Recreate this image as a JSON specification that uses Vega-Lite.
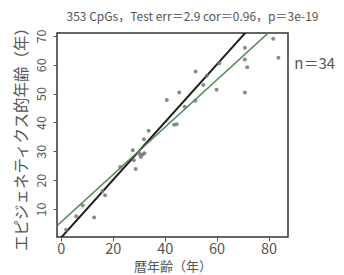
{
  "$schema": "https://vega.github.io/schema/vega-lite/v6.json",
  "autosize": {"type": "none"},
  "width": 231,
  "height": 204,
  "padding": {"left": 57, "top": 33, "right": 56, "bottom": 38},
  "background": "white",
  "config": {
    "font": "Noto Sans CJK JP",
    "view": {"stroke": "#333333", "strokeWidth": 1.5},
    "axis": {"grid": false, "domain": false, "tickColor": "#555555", "tickSize": 4, "labelColor": "#555555", "titleColor": "#555555", "titleFontWeight": "normal", "labelFont": "Noto Sans CJK JP", "titleFont": "Noto Sans CJK JP"}
  },
  "title": {
    "text": "353 CpGs，Test err＝2.9 cor＝0.96，p＝3e-19",
    "fontSize": 12,
    "fontWeight": "normal",
    "color": "#555555",
    "font": "Noto Sans CJK JP",
    "anchor": "middle",
    "dx": 20,
    "offset": -5
  },
  "datasets": {
    "pts": [
      {"age": 2.0, "epi": 2.8}, {"age": 5.9, "epi": 7.5}, {"age": 8.4, "epi": 11.2}, {"age": 12.8, "epi": 7.1},
      {"age": 16.0, "epi": 16.2}, {"age": 17.0, "epi": 14.8}, {"age": 22.8, "epi": 24.6}, {"age": 27.7, "epi": 30.4},
      {"age": 28.1, "epi": 26.9}, {"age": 28.8, "epi": 23.9}, {"age": 30.5, "epi": 28.9}, {"age": 30.8, "epi": 28.0},
      {"age": 31.5, "epi": 28.9}, {"age": 32.2, "epi": 29.3}, {"age": 30.0, "epi": 29.6}, {"age": 32.0, "epi": 34.2},
      {"age": 33.8, "epi": 37.1}, {"age": 40.8, "epi": 47.8}, {"age": 43.6, "epi": 39.2}, {"age": 44.6, "epi": 39.4},
      {"age": 45.6, "epi": 50.4}, {"age": 47.7, "epi": 45.4}, {"age": 51.9, "epi": 57.7}, {"age": 51.8, "epi": 47.5},
      {"age": 54.9, "epi": 53.0}, {"age": 56.2, "epi": 56.2}, {"age": 60.0, "epi": 51.3}, {"age": 61.0, "epi": 60.5},
      {"age": 70.9, "epi": 65.9}, {"age": 70.9, "epi": 61.8}, {"age": 70.9, "epi": 50.4}, {"age": 71.8, "epi": 59.1},
      {"age": 81.8, "epi": 69.0}, {"age": 83.8, "epi": 62.4}
    ],
    "lines": [
      {"line": "identity", "age": -3, "epi": -3},
      {"line": "identity", "age": 90, "epi": 90},
      {"line": "fit", "age": -3, "epi": 3.0},
      {"line": "fit", "age": 90, "epi": 79.3}
    ],
    "label": [{"age": 97.8, "epi": 60.4, "txt": "n＝34"}]
  },
  "encoding": {
    "x": {
      "field": "age", "type": "quantitative",
      "scale": {"domain": [-1.5, 87.5], "nice": false, "zero": false},
      "axis": {"values": [0, 20, 40, 60, 80], "labelFontSize": 14.5, "title": "暦年齢（年）", "titleFontSize": 13, "titlePadding": 5, "labelPadding": 1}
    },
    "y": {
      "field": "epi", "type": "quantitative",
      "scale": {"domain": [0.3, 71], "nice": false, "zero": false},
      "axis": {"values": [10, 20, 30, 40, 50, 60, 70], "labelOverlap": false, "labelFontSize": 12.5, "labelAngle": -90, "labelAlign": "center", "labelBaseline": "bottom", "labelPadding": 5, "title": "エピジェネティクス的年齢（年）", "titleFontSize": 15.5, "titlePadding": 6}
    }
  },
  "layer": [
    {
      "data": {"name": "lines"},
      "mark": {"type": "line", "clip": true},
      "encoding": {
        "detail": {"field": "line"},
        "color": {"field": "line", "type": "nominal", "scale": {"domain": ["identity", "fit"], "range": ["#1e1e1e", "#4f8a4f"]}, "legend": null},
        "strokeWidth": {"field": "line", "type": "nominal", "scale": {"domain": ["identity", "fit"], "range": [2, 1.5]}, "legend": null}
      }
    },
    {
      "data": {"name": "pts"},
      "mark": {"type": "circle", "size": 16, "color": "#777777", "opacity": 0.85}
    },
    {
      "data": {"name": "label"},
      "mark": {"type": "text", "fontSize": 15, "color": "#555555", "font": "Noto Sans CJK JP"},
      "encoding": {
        "text": {"field": "txt"}
      }
    }
  ]
}
